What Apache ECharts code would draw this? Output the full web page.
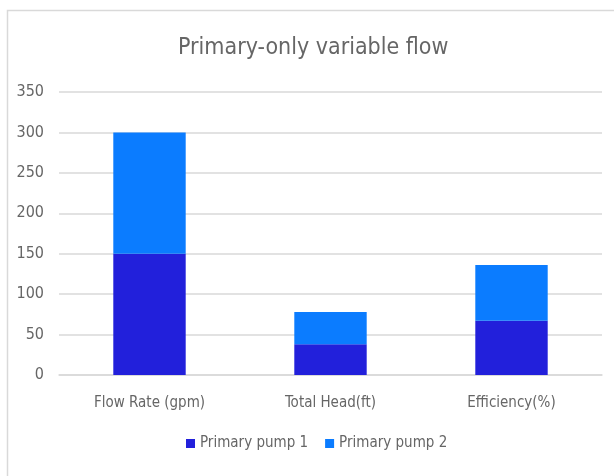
<!DOCTYPE html>
<html><head><meta charset="utf-8">
<script src="https://cdn.jsdelivr.net/npm/echarts@6/dist/echarts.min.js"></script>
<style>html,body{margin:0;padding:0;background:#fff}#c{width:614px;height:476px}</style>
</head><body><div id="c"></div>
<script>
const categories = ['Flow Rate (gpm)', 'Total Head(ft)', 'Efficiency(%)'];
const pump1 = [150, 38, 67];
const pump2 = [150, 40, 69];
const seriesNames = ['Primary pump 1', 'Primary pump 2'];
const FONT = '"DejaVu Sans Condensed", "Liberation Sans Narrow", "Noto Sans", sans-serif';
const TXT = '#666666';
const chart = echarts.init(document.getElementById('c'), null, {renderer: 'canvas'});
chart.setOption({
  animation: false,
  textStyle: {fontFamily: FONT},
  graphic: [{type: 'rect', left: 5, top: 8, shape: {width: 640, height: 500},
    style: {fill: 'none', stroke: '#d9d9d9', lineWidth: 1.5}, silent: true}],
  title: {text: 'Primary-only variable flow', left: 173, top: 32,
    textStyle: {fontFamily: FONT, fontSize: 23, fontWeight: 'normal', color: TXT}},
  legend: {bottom: 20, left: 181, itemWidth: 9, itemHeight: 9, itemGap: 17, icon: 'rect',
    textStyle: {fontFamily: FONT, fontSize: 15, color: TXT}, data: seriesNames},
  grid: {left: 59, right: 12, top: 92, bottom: 101},
  xAxis: {type: 'category', data: categories,
    axisLine: {lineStyle: {color: '#d9d9d9', width: 1.5}}, axisTick: {show: false},
    axisLabel: {fontFamily: FONT, fontSize: 15, color: TXT, margin: 21}},
  yAxis: {type: 'value', min: 0, max: 350, interval: 50,
    axisLine: {show: false}, axisTick: {show: false},
    splitLine: {lineStyle: {color: '#d9d9d9', width: 1.5}},
    axisLabel: {fontFamily: FONT, fontSize: 16, color: TXT, margin: 15}},
  series: [
    {name: seriesNames[0], type: 'bar', stack: 's', data: pump1, barWidth: '40%', itemStyle: {color: '#2220DB'}},
    {name: seriesNames[1], type: 'bar', stack: 's', data: pump2, barWidth: '40%', itemStyle: {color: '#0B7CFF'}}
  ]
});
</script></body></html>
